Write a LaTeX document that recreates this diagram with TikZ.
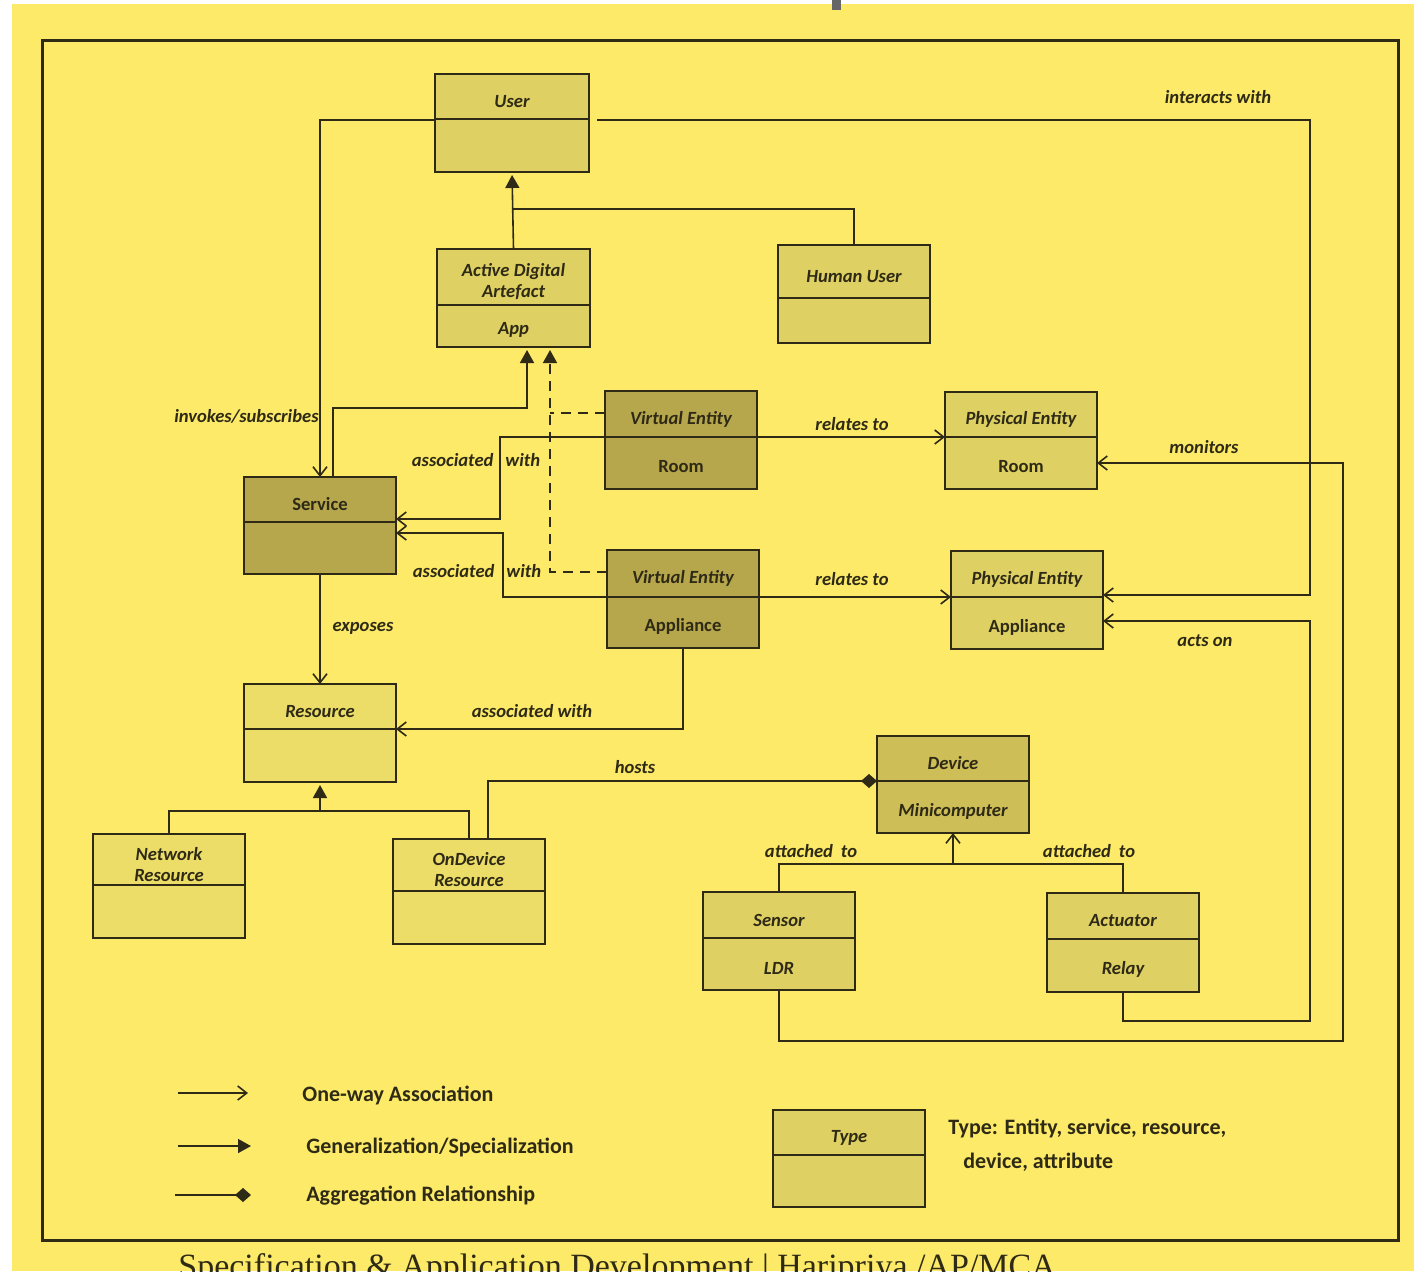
\documentclass[tikz,border=0pt]{standalone}
\usepackage{fontspec}
\setmainfont{Carlito}
\newfontfamily\footfont{Liberation Serif}
\usetikzlibrary{arrows.meta,calc}

\definecolor{paper}{RGB}{252,234,104}
\definecolor{ink}{RGB}{46,42,22}
\definecolor{boxlight}{RGB}{222,208,98}
\definecolor{boxpale}{RGB}{236,221,104}
\definecolor{boxmid}{RGB}{206,190,88}
\definecolor{boxdark}{RGB}{182,166,76}

\tikzset{
  x=0.5pt, y=-0.5pt,
  conn/.style={draw=ink, line width=0.8pt},
  assoc/.style={conn, -{Straight Barb[length=4.5pt,width=7pt]}},
  gen/.style={conn, -{Triangle[length=6.5pt,width=7pt]}, shorten >=1.5pt},
  agg/.style={conn, -{Diamond[length=8pt,width=7pt]}},
  realize/.style={conn, dash pattern=on 5pt off 3.5pt},
  lbl/.style={font=\fontsize{9.3}{11}\selectfont\bfseries\itshape, text=ink, inner sep=0pt},
  umlbox/.style={draw=ink, line width=0.7pt, inner sep=0pt, outer sep=0pt},
  boxtxt/.style={font=\fontsize{9.3}{10.5}\selectfont\bfseries, text=ink, align=center, inner sep=0pt},
  legtxt/.style={font=\fontsize{11}{13}\selectfont\bfseries, text=ink, anchor=west, inner sep=0pt},
}

% class box: name, x1, y1, x2, y2, divider y, fill, top text, bottom text
\newcommand\umlclass[9]{%
  \node[umlbox, fill=#7, minimum width={(#4-#2)*0.5pt}, minimum height={(#5-#3)*0.5pt}]
    (#1) at ({(#2+#4)/2},{(#3+#5)/2}) {};
  \draw[draw=ink, line width=0.6pt] (#1.west |- 0,#6) -- (#1.east |- 0,#6);
  \node[boxtxt] (#1-top) at ({(#2+#4)/2},{(#3+#6)/2+5}) {#8};
  \node[boxtxt] (#1-bot) at ({(#2+#4)/2},{(#6+#5)/2+4}) {#9};
}

\begin{document}
\begin{tikzpicture}
\useasboundingbox (0,0) rectangle (1414,1271);
\clip (0,0) rectangle (1414,1271);

% paper
\fill[paper] (0,0) rectangle (1414,1271);
\fill[white] (0,0) rectangle (12,1271);
\fill[white] (0,0) rectangle (1414,4);
\fill[black!60] (832,0) rectangle (841,10);

% frame
\draw[ink, line width=1.5pt] (42,40) rectangle (1398,1240);

% classes
\umlclass{user}{435}{74}{589}{172}{119}{boxlight}{\itshape User}{}
\umlclass{ada}{437}{249}{590}{347}{305}{boxlight}{\itshape Active Digital\\\itshape Artefact}{\itshape App}
\umlclass{human}{778}{245}{930}{343}{298}{boxlight}{\itshape Human User}{}
\umlclass{vroom}{605}{391}{757}{489}{437}{boxdark}{\itshape Virtual Entity}{Room}
\umlclass{proom}{945}{392}{1097}{489}{437}{boxlight}{\itshape Physical Entity}{Room}
\umlclass{vapp}{607}{550}{759}{648}{597}{boxdark}{\itshape Virtual Entity}{Appliance}
\umlclass{papp}{951}{551}{1103}{649}{597}{boxlight}{\itshape Physical Entity}{Appliance}
\umlclass{service}{244}{477}{396}{574}{522}{boxdark}{Service}{}
\umlclass{resource}{244}{684}{396}{782}{729}{boxpale}{\itshape Resource}{}
\umlclass{netres}{93}{834}{245}{938}{885}{boxpale}{\itshape Network\\\itshape Resource}{}
\umlclass{ondev}{393}{839}{545}{944}{891}{boxpale}{\itshape OnDevice\\\itshape Resource}{}
\umlclass{device}{877}{736}{1029}{833}{781}{boxmid}{\itshape Device}{\itshape Minicomputer}
\umlclass{sensor}{703}{892}{855}{990}{938}{boxlight}{\itshape Sensor}{\itshape LDR}
\umlclass{actuator}{1047}{893}{1199}{992}{939}{boxlight}{\itshape Actuator}{\itshape Relay}
\umlclass{typebox}{773}{1110}{925}{1207}{1155}{boxlight}{\itshape Type}{}

% generalisations
\draw[gen] (ada.north) -- (user.south);
\draw[conn] (human.north) |- (512,209);
\draw[gen] (service.north -| 333,0) |- (527,408) -- (ada.south -| 527,0);
\draw[realize] (vroom.west |- 0,413) -- (550,413);
\draw[realize, -{Triangle[length=6.5pt,width=7pt]}, shorten >=1.5pt]
  (vapp.west |- 0,572) -| (ada.south -| 550,0);
\draw[conn] (netres.north) |- (ondev.north |- 0,811) -- (ondev.north);
\draw[gen] (resource.south |- 0,811) -- (resource.south);

% associations
\draw[assoc] (user.west |- 0,120) -| (service.north);
\draw[assoc, shorten <=4pt] (user.east |- 0,120) -| (1310,595) -- (papp.east |- 0,595);
\draw[assoc] (vroom.east |- 0,437) -- (proom.west |- 0,437);
\draw[assoc] (vapp.east |- 0,597) -- (papp.west |- 0,597);
\draw[assoc] (vroom.west |- 0,437) -| (500,519) -- (service.east |- 0,519);
\draw[assoc] (vapp.west |- 0,597) -| (503,533) -- (service.east |- 0,533);
\draw[assoc] (service.south) -- (resource.north);
\draw[assoc] (vapp.south -| 683,0) |- (resource.east |- 0,729);
\draw[agg] (ondev.north -| 488,0) |- (device.west |- 0,781);
\draw[conn] (sensor.north) |- (actuator.north |- 0,864) -- (actuator.north);
\draw[assoc] (device.south |- 0,864) -- (device.south);
\draw[assoc] (sensor.south) |- (1343,1041) |- (proom.east |- 0,463);
\draw[assoc] (actuator.south) |- (1310,1021) |- (papp.east |- 0,621);

% connector labels
\node[lbl, anchor=east] (l-inv) at (319,416) {invokes/subscribes};
\node[lbl] (l-assoc1) at (476,460) {associated\hspace{6pt}with};
\node[lbl] (l-assoc2) at (477,571) {associated\hspace{6pt}with};
\node[lbl] (l-rel1) at (852,424) {relates to};
\node[lbl] (l-rel2) at (852,579) {relates to};
\node[lbl] (l-exp) at (363,628) {exposes};
\node[lbl] (l-assoc3) at (532,711) {associated with};
\node[lbl] (l-hosts) at (635,767) {hosts};
\node[lbl] (l-att1) at (811,851) {attached\hspace{4pt}to};
\node[lbl] (l-att2) at (1089,851) {attached\hspace{4pt}to};
\node[lbl] (l-int) at (1218,97) {interacts with};
\node[lbl] (l-mon) at (1204,447) {monitors};
\node[lbl] (l-acts) at (1205,641) {acts on};

% legend
\coordinate (lg1a) at (178,1093); \coordinate (lg1b) at (248,1093);
\coordinate (lg2a) at (178,1146); \coordinate (lg2b) at (251,1146);
\coordinate (lg3a) at (175,1195); \coordinate (lg3b) at (251,1195);
\draw[assoc] (lg1a) -- (lg1b);
\draw[conn, -{Triangle[length=6.5pt,width=7pt]}] (lg2a) -- (lg2b);
\draw[agg] (lg3a) -- (lg3b);
\node[legtxt] (lg1t) at (302,1095) {One-way Association};
\node[legtxt] (lg2t) at (306,1147) {Generalization/Specialization};
\node[legtxt] (lg3t) at (306,1196) {Aggregation Relationship};
\node[legtxt] (lg4t) at (948,1128) {Type: Entity, service, resource,};
\node[legtxt] (lg5t) at (963,1162) {device, attribute};

% footer line, running off the lower edge
\node[anchor=base west, font=\footfont\fontsize{17}{20}\selectfont, text=ink, inner sep=0pt]
  (footer) at (178,1277) {Specification \& Application Development | Haripriya /AP/MCA};
\end{tikzpicture}
\end{document}
